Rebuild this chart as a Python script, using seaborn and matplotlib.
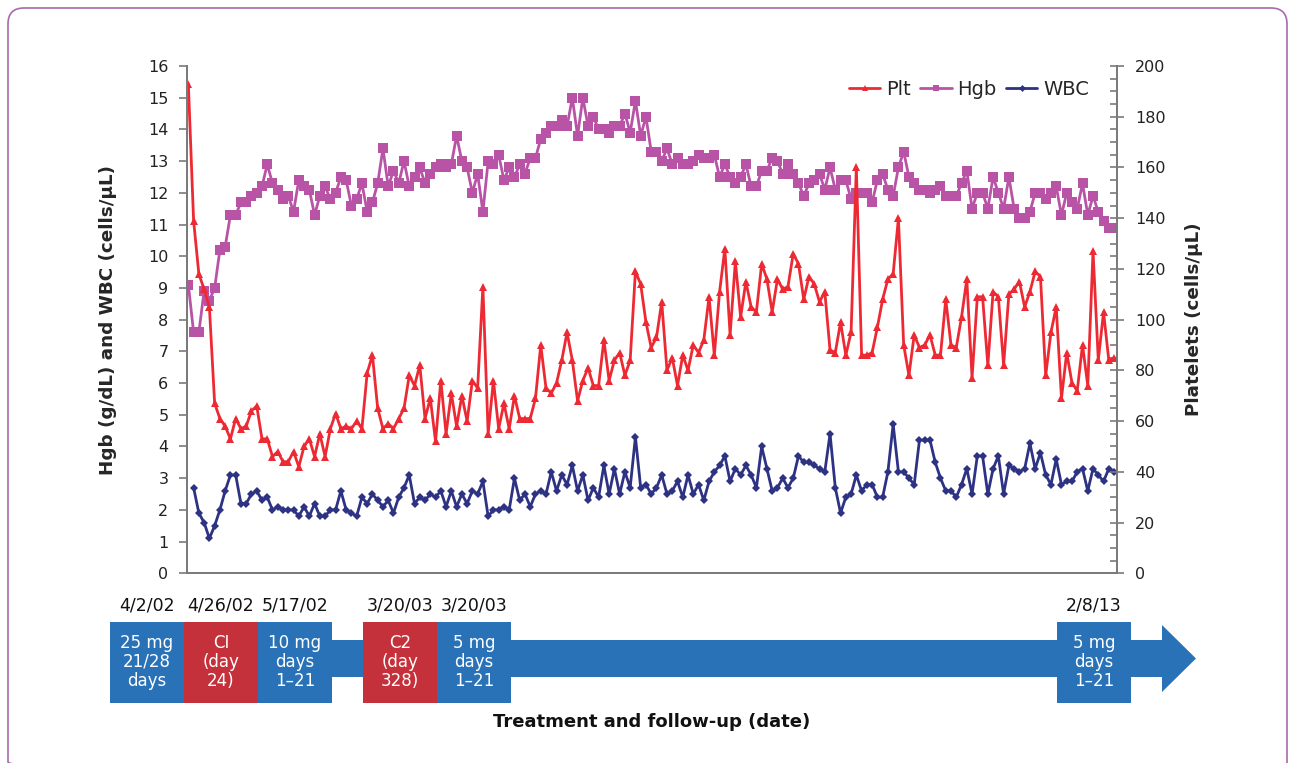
import numpy as np
import pandas as pd
import seaborn as sns
import matplotlib.pyplot as plt
from matplotlib.lines import Line2D
from matplotlib.patches import Rectangle, Polygon, FancyBboxPatch
from matplotlib.ticker import MultipleLocator

# platelets (cells/uL), right axis
plt_counts = [193, 139, 118, 112, 105, 67, 61, 58, 53, 61, 57, 58, 64, 66, 53, 53, 46, 48, 44, 44, 48, 42,
              50, 53, 46, 55, 46, 57, 63, 57, 58, 57, 60, 57, 79, 86, 65, 57, 59, 57, 61, 65, 78, 74, 82,
              61, 69, 52, 76, 55, 71, 58, 70, 60, 76, 73, 113, 55, 76, 57, 67, 57, 70, 61, 61, 61, 69, 90,
              73, 71, 75, 84, 95, 84, 68, 76, 81, 74, 74, 92, 76, 84, 87, 78, 84, 119, 114, 99, 89, 93, 107,
              80, 85, 74, 86, 80, 90, 87, 92, 109, 86, 111, 128, 94, 123, 101, 115, 105, 103, 122, 116, 103, 116, 112,
              113, 126, 122, 108, 117, 114, 107, 111, 88, 87, 99, 86, 95, 160, 86, 86, 87, 97, 108, 116, 118, 140,
              90, 78, 94, 89, 90, 94, 86, 86, 108, 90, 89, 101, 116, 77, 109, 109, 82, 111, 109, 82, 110, 112, 115,
              105, 111, 119, 117, 78, 95, 105, 69, 87, 75, 72, 90, 74, 127, 84, 103, 84, 85]

# hemoglobin (g/dL)
hgb = [9.1, 7.6, 7.6, 8.9, 8.6, 9.0, 10.2, 10.3, 11.3, 11.3, 11.7, 11.7, 11.9, 12.0, 12.2, 12.9, 12.3, 12.1, 11.8, 11.9, 11.4, 12.4,
       12.2, 12.1, 11.3, 11.9, 12.2, 11.8, 12.0, 12.5, 12.4, 11.6, 11.8, 12.3, 11.4, 11.7, 12.3, 13.4, 12.2, 12.7, 12.3, 13.0, 12.2, 12.5, 12.8,
       12.3, 12.6, 12.8, 12.9, 12.8, 12.9, 13.8, 13.0, 12.8, 12.0, 12.6, 11.4, 13.0, 12.9, 13.2, 12.4, 12.8, 12.5, 12.9, 12.6, 13.1, 13.1, 13.7,
       13.9, 14.1, 14.1, 14.3, 14.1, 15.0, 13.8, 15.0, 14.1, 14.4, 14.0, 14.0, 13.9, 14.1, 14.1, 14.5, 13.9, 14.9, 13.8, 14.4, 13.3, 13.3, 13.0,
       13.4, 12.9, 13.1, 12.9, 12.9, 13.0, 13.2, 13.1, 13.1, 13.2, 12.5, 12.9, 12.5, 12.3, 12.5, 12.9, 12.2, 12.2, 12.7, 12.7, 13.1, 13.0, 12.6,
       12.9, 12.6, 12.3, 11.9, 12.3, 12.4, 12.6, 12.1, 12.8, 12.1, 12.4, 12.4, 11.8, 12.0, 12.0, 12.0, 11.7, 12.4, 12.6, 12.1, 11.9, 12.8,
       13.3, 12.5, 12.3, 12.1, 12.1, 12.0, 12.1, 12.2, 11.9, 11.9, 11.9, 12.3, 12.7, 11.5, 12.0, 12.0, 11.5, 12.5, 12.0, 11.5, 12.5, 11.5, 11.2,
       11.2, 11.4, 12.0, 12.0, 11.8, 12.0, 12.2, 11.3, 12.0, 11.7, 11.5, 12.3, 11.3, 11.9, 11.4, 11.1, 10.9, 10.9]

# white blood cells
wbc = [np.nan, 2.7, 1.9, 1.6, 1.1, 1.5, 2.0, 2.6, 3.1, 3.1, 2.2, 2.2, 2.5, 2.6, 2.3, 2.4, 2.0, 2.1, 2.0, 2.0, 2.0, 1.8,
       2.1, 1.8, 2.2, 1.8, 1.8, 2.0, 2.0, 2.6, 2.0, 1.9, 1.8, 2.4, 2.2, 2.5, 2.3, 2.1, 2.3, 1.9, 2.4, 2.7, 3.1, 2.2, 2.4,
       2.3, 2.5, 2.4, 2.6, 2.1, 2.6, 2.1, 2.5, 2.2, 2.6, 2.5, 2.9, 1.8, 2.0, 2.0, 2.1, 2.0, 3.0, 2.3, 2.5, 2.1, 2.5, 2.6,
       2.5, 3.2, 2.6, 3.1, 2.8, 3.4, 2.6, 3.1, 2.3, 2.7, 2.4, 3.4, 2.5, 3.3, 2.5, 3.2, 2.7, 4.3, 2.7, 2.8, 2.5, 2.7, 3.1,
       2.5, 2.6, 2.9, 2.4, 3.1, 2.5, 2.8, 2.3, 2.9, 3.2, 3.4, 3.7, 2.9, 3.3, 3.1, 3.4, 3.1, 2.7, 4.0, 3.3, 2.6, 2.7, 3.0,
       2.7, 3.0, 3.7, 3.5, 3.5, 3.4, 3.3, 3.2, 4.4, 2.7, 1.9, 2.4, 2.5, 3.1, 2.6, 2.8, 2.8, 2.4, 2.4, 3.2, 4.7, 3.2,
       3.2, 3.0, 2.8, 4.2, 4.2, 4.2, 3.5, 3.0, 2.6, 2.6, 2.4, 2.8, 3.3, 2.5, 3.7, 3.7, 2.5, 3.3, 3.7, 2.5, 3.4, 3.3, 3.2,
       3.3, 4.1, 3.3, 3.8, 3.1, 2.8, 3.6, 2.8, 2.9, 2.9, 3.2, 3.3, 2.6, 3.3, 3.1, 2.9, 3.3, 3.2]

# treatment timeline
dates = ['4/2/02', '4/26/02', '5/17/02', '3/20/03', '3/20/03', '2/8/13']
box_text = ['25 mg\n21/28\ndays', 'CI\n(day\n24)', '10 mg\ndays\n1–21',
            'C2\n(day\n328)', '5 mg\ndays\n1–21', '5 mg\ndays\n1–21']
box_kind = ['dose', 'cycle', 'dose', 'cycle', 'dose', 'dose']

df = pd.DataFrame({'visit': np.arange(len(hgb)), 'Plt': plt_counts, 'Hgb': hgb, 'WBC': wbc})

c_plt, c_hgb, c_wbc = '#ED2A33', '#B953A6', '#2D3283'
c_blue, c_red = '#2A72B8', '#C4313B'

sns.set_style('white')
plt.rcParams['font.family'] = ['DejaVu Sans']

fig = plt.figure(figsize=(12.95, 7.63), dpi=100)

# background layer in pixel coords for border + timeline
bg = fig.add_axes([0, 0, 1, 1])
bg.set_xlim(0, 1295)
bg.set_ylim(763, 0)
bg.axis('off')
bg.add_patch(FancyBboxPatch((8, 8), 1279, 770, boxstyle='round,pad=0,rounding_size=16',
                            fc='none', ec='#A56BAA', lw=1.2))

ax = fig.add_axes([186.5 / 1295, 1 - 573.3 / 763, 930.2 / 1295, 507.3 / 763])
ax.patch.set_alpha(0)
ax2 = ax.twinx()

sns.lineplot(data=df, x='visit', y='Hgb', ax=ax, color=c_hgb, marker='s', markersize=6.5,
             markeredgewidth=0, linewidth=2, estimator=None, legend=False)
sns.lineplot(data=df, x='visit', y='WBC', ax=ax, color=c_wbc, marker='D', markersize=4.5,
             markeredgewidth=0, linewidth=2, estimator=None, legend=False)
sns.lineplot(data=df, x='visit', y='Plt', ax=ax2, color=c_plt, marker='^', markersize=6,
             markeredgewidth=0, linewidth=2, estimator=None, legend=False)

ax.set_xlim(-0.35, 176.5)
ax.set_ylim(0, 16)
ax2.set_ylim(0, 200)
ax.set_yticks(range(0, 17))
ax2.set_yticks(range(0, 201, 20))
ax2.yaxis.set_minor_locator(MultipleLocator(5))
ax.set_xticks([])

for a in (ax, ax2):
    for s in a.spines.values():
        s.set_color('#7a7a7a')
        s.set_linewidth(1.3)
    a.spines['top'].set_visible(False)
ax.tick_params(axis='y', direction='out', length=6, width=1.2, color='#7a7a7a',
               labelsize=11.5, labelcolor='#222222', pad=7, left=True)
ax2.tick_params(axis='y', which='major', direction='inout', length=10, width=1.2, color='#7a7a7a',
                labelsize=11.5, labelcolor='#222222', pad=8)
ax2.tick_params(axis='y', which='minor', direction='in', length=5, width=1.2, color='#7a7a7a')

ax.set_xlabel('')
ax.set_ylabel('Hgb (g/dL) and WBC (cells/µL)', fontsize=13.2, fontweight='bold', labelpad=22)
ax2.set_ylabel('Platelets (cells/µL)', fontsize=13.2, fontweight='bold', labelpad=14)

handles = [Line2D([], [], color=c_plt, marker='^', markersize=5, lw=2, markeredgewidth=0),
           Line2D([], [], color=c_hgb, marker='s', markersize=5, lw=2, markeredgewidth=0),
           Line2D([], [], color=c_wbc, marker='D', markersize=3.5, lw=2, markeredgewidth=0)]
ax2.legend(handles, ['Plt', 'Hgb', 'WBC'], loc='upper right', bbox_to_anchor=(0.985, 1.0),
           ncol=3, frameon=False, fontsize=14, handlelength=1.6, handletextpad=0.3,
           columnspacing=0.5, borderaxespad=0.3)

# timeline: arrow shaft, head, boxes
bg.add_patch(Rectangle((332, 640), 1163 - 332, 37, fc=c_blue, ec='none'))
bg.add_patch(Polygon([(1162, 625), (1196, 658.5), (1162, 692)], closed=True, fc=c_blue, ec='none'))
box_left = [110, 184, 258, 363, 437, 1057]
for x0, txt, kind, d in zip(box_left, box_text, box_kind, dates):
    bg.add_patch(Rectangle((x0, 622), 74, 81, fc=c_blue if kind == 'dose' else c_red, ec='none'))
    bg.text(x0 + 37, 662, txt, color='white', fontsize=12, ha='center', va='center', linespacing=1.1)
    bg.text(x0 + 37, 605, d, color='#111111', fontsize=12.5, ha='center', va='center')
bg.text(652, 722, 'Treatment and follow-up (date)', fontsize=13, fontweight='bold',
        ha='center', va='center', color='#111111')

fig.savefig('out.png', dpi=100)
